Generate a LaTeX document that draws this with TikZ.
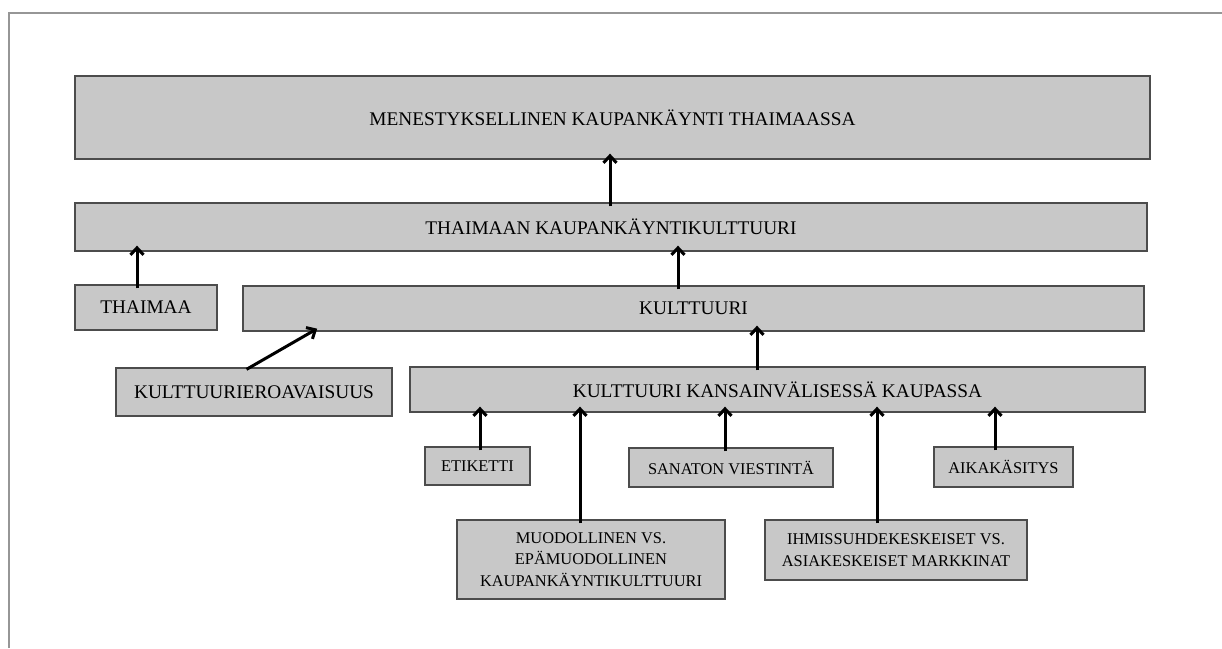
\documentclass[tikz,border=0pt]{standalone}
\usepackage{fontspec}
\setmainfont{Liberation Serif}
\usetikzlibrary{arrows.meta}
\definecolor{laatikkoharmaa}{RGB}{200,200,200}
\definecolor{kehys}{RGB}{150,150,150}

\begin{document}
\begin{tikzpicture}[x=1pt,y=-1pt,
   laatikko/.style={draw=black!70,line width=1.3pt,fill=laatikkoharmaa,inner sep=0pt,align=center},
   iso/.style={laatikko,font=\fontsize{19.3}{22}\selectfont},
   pieni/.style={laatikko,font=\fontsize{16.4}{21.5}\selectfont},
   nuoli/.style={-{Straight Barb[length=7pt,width=13pt]},line width=3pt,shorten <=-4pt,shorten >=-6pt}]
   \useasboundingbox (0,0) rectangle (1222,648);
   \draw[kehys,line width=2pt] (9,648) -- (9,13) -- (1222,13);

   \node[iso,minimum width=1075pt,minimum height=83pt] (menestys) at (612.5,117.5) {MENESTYKSELLINEN KAUPANKÄYNTI THAIMAASSA};
   \node[iso,minimum width=1072pt,minimum height=48pt] (thaikult) at (611,227) {THAIMAAN KAUPANKÄYNTIKULTTUURI};
   \node[iso,minimum width=142pt,minimum height=45pt] (thaimaa) at (146,307.5) {THAIMAA};
   \node[iso,minimum width=901pt,minimum height=45pt] (kult) at (693.5,308.5) {KULTTUURI};
   \node[iso,minimum width=276pt,minimum height=48pt] (eroav) at (254,392) {KULTTUURIEROAVAISUUS};
   \node[iso,minimum width=735pt,minimum height=45pt] (kkk) at (777.5,389.5) {KULTTUURI KANSAINVÄLISESSÄ KAUPASSA};
   \node[pieni,minimum width=105pt,minimum height=38pt] (etiketti) at (477.5,466) {ETIKETTI};
   \node[pieni,minimum width=204pt,minimum height=39pt] (sanaton) at (731,467.5) {SANATON VIESTINTÄ};
   \node[pieni,minimum width=139pt,minimum height=40pt] (aika) at (1003.5,467) {AIKAKÄSITYS};
   \node[pieni,minimum width=268pt,minimum height=79pt] (muod) at (591,559.5) {MUODOLLINEN VS.\\EPÄMUODOLLINEN\\KAUPANKÄYNTIKULTTUURI};
   \node[pieni,minimum width=262pt,minimum height=60pt] (ihmis) at (896,550) {IHMISSUHDEKESKEISET VS.\\ASIAKESKEISET MARKKINAT};

   \draw[nuoli] ([xshift=-1pt]thaikult.north) -- ([xshift=-1pt]thaikult.north |- menestys.south);
   \draw[nuoli] ([xshift=-9pt]thaimaa.north) -- ([xshift=-9pt]thaimaa.north |- thaikult.south);
   \draw[nuoli] ([xshift=-15.5pt]kult.north) -- ([xshift=-15.5pt]kult.north |- thaikult.south);
   \draw[nuoli] ([xshift=-4pt]eroav.north) -- ([xshift=-381.5pt]kult.south);
   \draw[nuoli] ([xshift=-20.5pt]kkk.north) -- ([xshift=-20.5pt]kkk.north |- kult.south);
   \draw[nuoli] ([xshift=2.5pt]etiketti.north) -- ([xshift=2.5pt]etiketti.north |- kkk.south);
   \draw[nuoli] ([xshift=-11pt]muod.north) -- ([xshift=-11pt]muod.north |- kkk.south);
   \draw[nuoli] ([xshift=-6pt]sanaton.north) -- ([xshift=-6pt]sanaton.north |- kkk.south);
   \draw[nuoli] ([xshift=-19pt]ihmis.north) -- ([xshift=-19pt]ihmis.north |- kkk.south);
   \draw[nuoli] ([xshift=-8.5pt]aika.north) -- ([xshift=-8.5pt]aika.north |- kkk.south);
\end{tikzpicture}
\end{document}
